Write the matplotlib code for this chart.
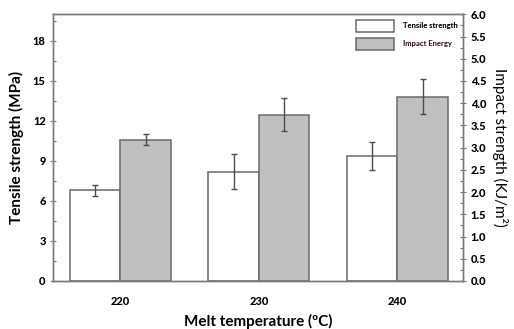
import matplotlib
matplotlib.use("Agg")
import matplotlib.pyplot as plt
import numpy as np
from matplotlib.ticker import MultipleLocator, FormatStrFormatter

plt.rcParams['font.family'] = ['Lato', 'DejaVu Sans']

# ── データ ─────────────────────────────
temps = ['220', '230', '240']
tensile = [6.8, 8.2, 9.4]          # MPa
tensile_err = [0.4, 1.3, 1.05]
impact = [3.18, 3.74, 4.15]        # KJ/m2
impact_err = [0.12, 0.37, 0.40]

x = np.arange(len(temps))
w = 0.365
edge = '#6a6a6a'
spine_c = '#7a7a7a'

fig = plt.figure(figsize=(5.14, 3.29), dpi=100, facecolor='white')
ax = fig.add_axes([0.1037, 0.1459, 0.7971, 0.8106])
ax2 = ax.twinx()

ekw = dict(ecolor='#4d4d4d', elinewidth=1.0, capsize=2.5, capthick=1.0)
b1 = ax.bar(x - w / 2, tensile, w, color='white', edgecolor=edge, linewidth=1.1,
            yerr=tensile_err, error_kw=ekw, zorder=2)
b2 = ax2.bar(x + w / 2, impact, w, color='#c0c0c0', edgecolor=edge, linewidth=1.1,
             yerr=impact_err, error_kw=ekw, zorder=2)

ax.set_xlim(-0.485, 2.475)
ax.set_ylim(0, 20)
ax2.set_ylim(0, 6)

ax.set_xticks(x)
ax.set_xticklabels(temps, fontsize=8, fontweight='black')
ax.tick_params(axis='x', length=0, pad=11)

ax.yaxis.set_major_locator(MultipleLocator(3))
ax.yaxis.set_minor_locator(MultipleLocator(1.5))
ax2.yaxis.set_major_locator(MultipleLocator(0.5))
ax2.yaxis.set_minor_locator(MultipleLocator(0.25))
ax2.yaxis.set_major_formatter(FormatStrFormatter('%.1f'))

for a in (ax, ax2):
    a.tick_params(axis='y', which='major', direction='inout', length=5, width=0.8,
                  color=spine_c, labelsize=8, pad=3)
    a.tick_params(axis='y', which='minor', direction='in', length=2.5, width=0.8,
                  color=spine_c)
    for lab in a.get_yticklabels():
        lab.set_fontweight('black')
    for s in a.spines.values():
        s.set_color(spine_c)
        s.set_linewidth(1.0)

ax.set_ylabel('Tensile strength (MPa)', fontsize=11, fontweight='bold', labelpad=6)
ax.set_xlabel('Melt temperature (ºC)', fontsize=11, fontweight='bold', labelpad=5)
ax2.set_ylabel('Impact strength (KJ/m²)', fontsize=11, rotation=270, labelpad=16)

leg = ax2.legend([b1, b2], ['Tensile strength', 'Impact Energy'],
                 loc='upper right', frameon=False, prop=dict(size=5.5, weight='black'),
                 handlelength=5.0, handleheight=2.0, labelspacing=0.8,
                 handletextpad=1.1, borderaxespad=0.35)
leg.get_texts()[1].set_color('#3a1c1c')

fig.savefig('out.png', dpi=100, facecolor='white')
